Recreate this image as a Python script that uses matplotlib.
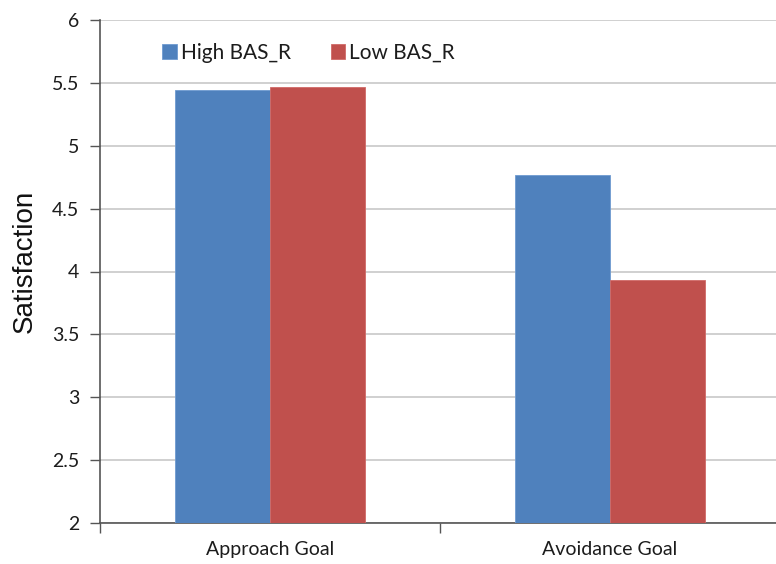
import matplotlib.pyplot as plt
import numpy as np

categories = ['Approach Goal', 'Avoidance Goal']
series_names = ['High BAS_R', 'Low BAS_R']
high_bas = [5.44, 4.77]
low_bas = [5.47, 3.93]
y_ticks = [2, 2.5, 3, 3.5, 4, 4.5, 5, 5.5, 6]
y_tick_labels = ['2', '2.5', '3', '3.5', '4', '4.5', '5', '5.5', '6']

colors = ['#4F81BD', '#C0504D']
txt = '#1c1c1c'

fig = plt.figure(figsize=(7.76, 5.64), dpi=100)
ax = fig.add_axes([100 / 776, 1 - 523 / 564, 680 / 776, 503 / 564])

x = np.arange(len(categories))
w = 0.28
ax.bar(x - w / 2, high_bas, w, color=colors[0], edgecolor='#6f9bd0',
       linewidth=0.6, label=series_names[0], zorder=3)
ax.bar(x + w / 2, low_bas, w, color=colors[1], edgecolor='#d06a67',
       linewidth=0.6, label=series_names[1], zorder=3)

ax.set_ylim(2, 6)
ax.set_xlim(-0.5, 1.5)
ax.set_yticks(y_ticks)
ax.set_yticklabels(y_tick_labels, fontfamily='Lato', fontsize=14, color=txt)
ax.yaxis.grid(True, color='#c8c8c8', linewidth=1.2, zorder=0)
ax.set_axisbelow(True)

# category ticks sit between the groups, labels centered under them
ax.set_xticks([-0.5, 0.5, 1.5])
ax.set_xticklabels(['', '', ''])
ax.set_xticks(x, minor=True)
ax.set_xticklabels(categories, minor=True, fontfamily='Lato', fontsize=14, color=txt)
ax.tick_params(axis='x', which='minor', length=0, pad=13)
ax.tick_params(axis='x', which='major', length=7, width=1, color='#555555')
ax.tick_params(axis='y', length=7, width=1, color='#555555', pad=8)

for s in ['top', 'right']:
    ax.spines[s].set_visible(False)
for s in ['left', 'bottom']:
    ax.spines[s].set_color('#555555')
    ax.spines[s].set_linewidth(1.2)

ax.set_ylabel('Satisfaction', fontfamily='Liberation Sans', fontsize=20, labelpad=10, color='#111111')
ax.yaxis.label.set_y(0.52)

leg = ax.legend(loc='upper left', bbox_to_anchor=(0.064, 0.992), ncol=2, frameon=False,
                handlelength=0.7, handleheight=0.7, handletextpad=0.2, columnspacing=1.9,
                prop={'family': 'Lato', 'size': 15})
for t in leg.get_texts():
    t.set_color(txt)

fig.savefig('out.png', dpi=100)
